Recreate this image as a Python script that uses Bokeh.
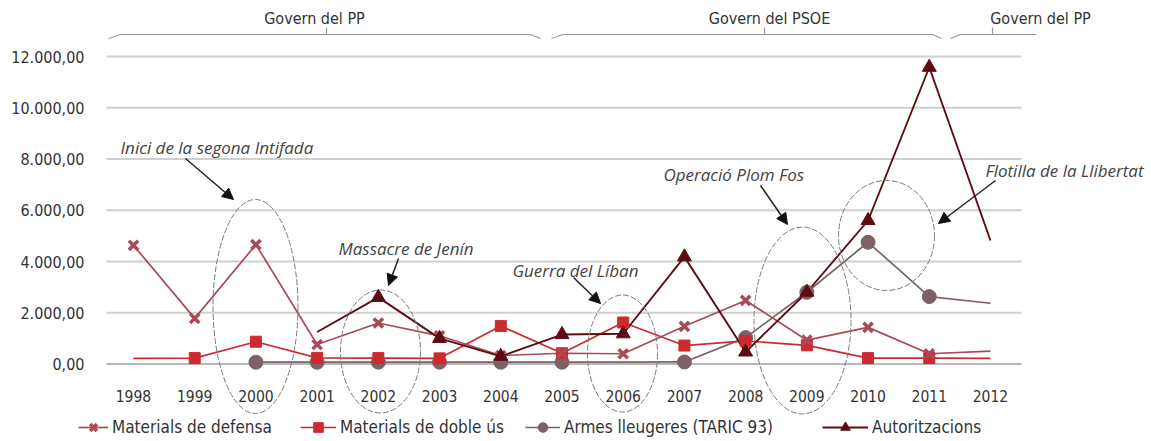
from bokeh.plotting import figure
from bokeh.models import (ColumnDataSource, FixedTicker, Legend, LegendItem, Label, Arrow,
                          NormalHead, CDSView, IndexFilter, Range1d)
from bokeh.embed import file_html
from bokeh.resources import INLINE

# ---------------- data ----------------
years = [1998, 1999, 2000, 2001, 2002, 2003, 2004, 2005, 2006, 2007, 2008, 2009, 2010, 2011, 2012]
defensa = [4630, 1780, 4660, 760, 1600, 1100, 330, 420, 400, 1470, 2480, 930, 1430, 400, 500]
doble_us = [220, 230, 870, 240, 230, 220, 1480, 420, 1620, 720, 900, 730, 230, 230, 220]
armes_years = [2000, 2001, 2002, 2003, 2004, 2005, 2006, 2007, 2008, 2009, 2010, 2011, 2012]
armes = [70, 70, 70, 70, 70, 70, 70, 80, 1030, 2800, 4750, 2630, 2370]
autor_years = [2001, 2002, 2003, 2004, 2005, 2006, 2007, 2008, 2009, 2010, 2011, 2012]
autor = [1250, 2600, 1000, 300, 1150, 1180, 4180, 470, 2800, 5600, 11580, 4820]

y_ticks = [0, 2000, 4000, 6000, 8000, 10000, 12000]
y_labels = ["0,00", "2.000,00", "4.000,00", "6.000,00", "8.000,00", "10.000,00", "12.000,00"]

periods = ["Govern del PP", "Govern del PSOE", "Govern del PP"]
events = ["Inici de la segona Intifada", "Massacre de Jenín", "Guerra del Líban",
          "Operació Plom Fos", "Flotilla de la Llibertat"]
series_names = ["Materials de defensa", "Materials de doble ús", "Armes lleugeres (TARIC 93)", "Autoritzacions"]

C_DEF = "#a84b57"
C_DOB = "#cc2a30"
C_ARM = "#7c6264"
C_AUT = "#5e0c14"
TXT = "#333333"
FONT = "DejaVu Sans Condensed"
IFONT = "Open Sans"

# ---------------- figure ----------------
W, H = 1151, 441
OX, OY = 0, 0


# helpers: convert positions measured on the reference picture into data coordinates
def X(px):
    return 1998 + (px - 133) / 61.214


def Y(py):
    return (363.5 - py) / 0.025625


p = figure(width=W, height=H, output_backend="svg", toolbar_location=None,
           min_border=0, min_border_left=0, min_border_right=0, min_border_top=0, min_border_bottom=0,
           x_range=Range1d(X(OX), X(OX + W)), y_range=Range1d(Y(OY + H), Y(OY)))
p.outline_line_color = None
p.background_fill_color = "white"
p.border_fill_color = "white"
p.xgrid.grid_line_color = None
p.ygrid.grid_line_color = None

# axes (positioned at fixed data locations so that they take no side-panel space)
p.yaxis.fixed_location = X(106)
p.yaxis.ticker = FixedTicker(ticks=y_ticks)
p.yaxis.major_label_overrides = {t: l for t, l in zip(y_ticks, y_labels)}
p.yaxis.axis_line_color = None
p.yaxis.major_tick_line_color = None
p.yaxis.minor_tick_line_color = None
p.yaxis.major_label_standoff = 16
p.yaxis.major_label_text_font = FONT
p.yaxis.major_label_text_font_size = "16px"
p.yaxis.major_label_text_color = TXT

p.xaxis.fixed_location = 0
p.xaxis.ticker = FixedTicker(ticks=years)
p.xaxis.major_label_overrides = {y: str(y) for y in years}
p.xaxis.axis_line_color = None
p.xaxis.major_tick_line_color = None
p.xaxis.minor_tick_line_color = None
p.xaxis.major_label_standoff = 20
p.xaxis.major_label_text_font = FONT
p.xaxis.major_label_text_font_size = "15.5px"
p.xaxis.major_label_text_color = TXT

# horizontal grid lines (drawn from the y tick values, limited to the plotting area)
grid_src = ColumnDataSource(dict(y=y_ticks, x0=[X(106)] * len(y_ticks), x1=[X(1021)] * len(y_ticks),
                                 c=["#b8b8b8"] + ["#d0d0d0"] * (len(y_ticks) - 1)))
p.segment(x0="x0", x1="x1", y0="y", y1="y", source=grid_src, line_color="c", line_width=2)

# ---------------- series ----------------
src_def = ColumnDataSource(dict(x=years, y=defensa))
src_dob = ColumnDataSource(dict(x=years, y=doble_us))
src_arm = ColumnDataSource(dict(x=armes_years, y=armes))
src_aut = ColumnDataSource(dict(x=autor_years, y=autor))

l_arm = p.line("x", "y", source=src_arm, color=C_ARM, line_width=1.7)
l_dob = p.line("x", "y", source=src_dob, color=C_DOB, line_width=1.7)
l_def = p.line("x", "y", source=src_def, color=C_DEF, line_width=1.7)
l_aut = p.line("x", "y", source=src_aut, color=C_AUT, line_width=1.9)

m_arm = p.scatter("x", "y", source=src_arm, marker="circle", size=14, color=C_ARM,
                  view=CDSView(filter=IndexFilter([0, 1, 2, 3, 4, 5, 7, 8, 9, 10, 11])))
m_dob = p.scatter("x", "y", source=src_dob, marker="square", size=11, color=C_DOB,
                  view=CDSView(filter=IndexFilter(list(range(1, 14)))))
m_def = p.scatter("x", "y", source=src_def, marker="x", size=13, line_width=3.5, color=C_DEF,
                  view=CDSView(filter=IndexFilter(list(range(0, 14)))))
m_aut = p.scatter("x", "y", source=src_aut, marker="triangle", size=14, color=C_AUT,
                  view=CDSView(filter=IndexFilter(list(range(1, 11)))))

# ---------------- ellipses around events ----------------
ell_cx = [255, 380, 622, 802, 886]
ell_cy = [306, 351, 353, 320, 235]
ell_w = [85, 80, 70, 97, 96]
ell_h = [214, 123, 117, 187, 110]
p.ellipse(x=[X(v) for v in ell_cx], y=[Y(v) for v in ell_cy], width=ell_w, height=ell_h,
          width_units="screen", height_units="screen", fill_alpha=0,
          line_color="#7a7a7a", line_width=1, line_dash="6 2")

# ---------------- event labels + arrows ----------------
ev_x = [120, 338, 512, 663, 985]
ev_y = [147, 248, 270, 174, 170]
for name, tx, ty in zip(events, ev_x, ev_y):
    p.add_layout(Label(x=X(tx), y=Y(ty), text=name, text_font=IFONT, text_font_style="italic",
                       text_font_size="17px", text_color="#444444", text_baseline="middle"))
arr = [(185, 158, 233, 199), (398, 258, 388, 285), (573, 277, 600, 303),
       (760, 185, 787, 224), (995, 180, 938, 223)]
for x0, y0, x1, y1 in arr:
    p.add_layout(Arrow(x_start=X(x0), y_start=Y(y0), x_end=X(x1), y_end=Y(y1),
                       line_color="#222222", line_width=1.5,
                       end=NormalHead(size=11, fill_color="#111111", line_color="#111111")))

# ---------------- government braces ----------------
by = 34
bxs = [[108, 120, 530, 540], [326, 326],
       [551, 562, 932, 941], [764, 764],
       [950, 960, 1036], [992, 992]]
bys = [[by + 4, by, by, by + 4], [by, by - 7],
       [by + 4, by, by, by + 4], [by, by - 7],
       [by + 4, by, by], [by, by - 7]]
p.multi_line(xs=[[X(v) for v in r] for r in bxs], ys=[[Y(v) for v in r] for r in bys],
             line_color="#9a9a9a", line_width=1.2)
for name, xm in zip(periods, [314, 769, 1040]):
    p.add_layout(Label(x=X(xm), y=Y(18), text=name, text_font=FONT, text_font_size="16px",
                       text_color=TXT, text_align="center", text_baseline="middle"))

# ---------------- legends ----------------
leg_x = [78, 300, 525, 822]
gw = [30, 36, 35, 46]
for name, rs, lx, g in zip(series_names, [[l_def, m_def], [l_dob, m_dob], [l_arm, m_arm], [l_aut, m_aut]], leg_x, gw):
    lg = Legend(items=[LegendItem(label=name, renderers=rs)], location=(lx - OX, 2),
                glyph_width=g, glyph_height=24, label_height=24,
                label_text_font=FONT, label_text_font_size="17px",
                label_text_color=TXT, label_standoff=4, padding=0, margin=0,
                border_line_color=None, background_fill_alpha=0)
    p.add_layout(lg)

open("out.html", "w").write(file_html(p, INLINE))
